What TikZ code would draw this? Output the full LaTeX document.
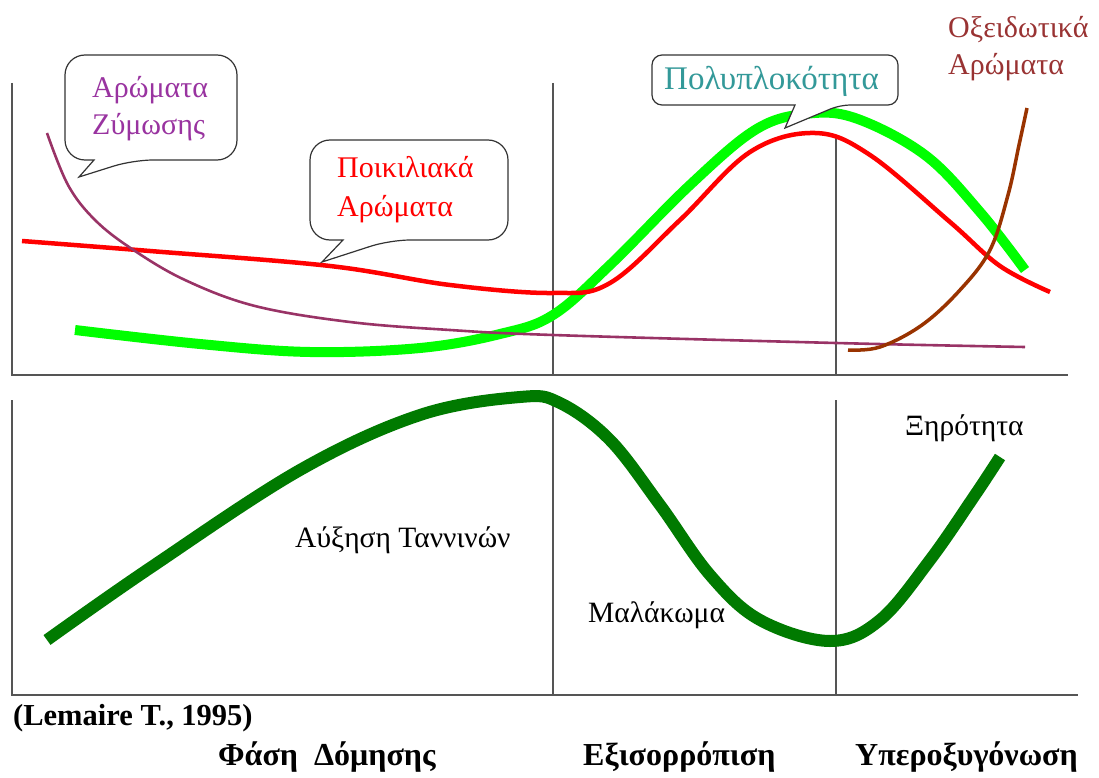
\documentclass[tikz,border=0pt]{standalone}
\usepackage{fontspec}
\setmainfont{Liberation Serif}
\definecolor{axisgray}{HTML}{555555}
\definecolor{plum}{HTML}{993366}
\definecolor{lgreen}{HTML}{00FF00}
\definecolor{dgreen}{HTML}{007A00}
\definecolor{brownc}{HTML}{993300}
\definecolor{purpletxt}{HTML}{9933A0}
\definecolor{tealtxt}{HTML}{339999}
\definecolor{oxtxt}{HTML}{993333}
\begin{document}
\begin{tikzpicture}[x=1pt,y=-1pt,
  axis/.style={draw=axisgray,line width=2.2pt},
  divider/.style={draw=axisgray,line width=1.5pt},
  bubble/.style={draw=black!80,line width=1.2pt,fill=white},
  lbl/.style={inner sep=0pt,anchor=base west,font=\fontsize{30}{37}\selectfont},
  small/.style={inner sep=0pt,anchor=base west,font=\fontsize{29.5}{32}\selectfont},
  bold/.style={inner sep=0pt,anchor=base west,font=\bfseries\fontsize{32}{34}\selectfont}]
\useasboundingbox (0,0) rectangle (1099,778);
% axes
\coordinate (tl) at (12,83); \coordinate (to) at (12,375); \coordinate (tr) at (1068,375);
\coordinate (bl) at (12,400); \coordinate (bo) at (12,695); \coordinate (br) at (1078,695);
\draw[axis] (tl) -- (to) -- (tr);
\draw[axis] (bl) -- (bo) -- (br);
\coordinate (d1t) at (553,83); \coordinate (d1m) at (553,375);
\coordinate (d1b) at (553,395); \coordinate (d1e) at (553,695);
\coordinate (d2t) at (836,135); \coordinate (d2m) at (836,375);
\coordinate (d2b) at (836,400); \coordinate (d2e) at (836,695);
\draw[divider] (d1t) -- (d1m); \draw[divider] (d1b) -- (d1e);
\draw[divider] (d2t) -- (d2m); \draw[divider] (d2b) -- (d2e);
% bright green curve
\draw[lgreen,line width=10pt] plot[smooth,tension=0.6] coordinates
 {(75,330) (200,344) (310,352) (420,348) (500,334) (553,315) (610,265) (690,185) (755,130) (805,114) (855,118) (925,155) (980,212) (1025,270)};
% red curve
\draw[red,line width=4.5pt] plot[smooth,tension=0.6] coordinates
 {(22,241) (150,251) (330,266) (450,285) (553,293) (610,283) (680,220) (750,152) (815,133) (870,155) (950,222) (1000,266) (1050,292)};
% purple curve
\draw[plum,line width=2.6pt] plot[smooth,tension=0.6] coordinates
 {(47,133) (68,185) (95,220) (132,249) (185,280) (255,306) (350,322) (450,330) (553,335) (836,343) (1025,347)};
% brown curve
\draw[brownc,line width=3.5pt] plot[smooth,tension=0.6] coordinates
 {(848,350) (880,347) (922,325) (960,290) (990,250) (1008,195) (1019,145) (1027,108)};
% dark green curve
\draw[dgreen,line width=12pt] plot[smooth,tension=0.6] coordinates
 {(47,640) (150,568) (300,470) (420,415) (520,397) (560,403) (610,440) (660,505) (710,575) (760,620) (830,641) (880,620) (930,560) (975,495) (1000,457)};
% bubbles
\draw[bubble] (65,55) [rounded corners=20pt] -- (237,55) -- (237,160) -- (133,160) [sharp corners] -- (79,177) -- (94,160) [rounded corners=20pt] -- (65,160) -- cycle;
\draw[bubble] (310,140) [rounded corners=20pt] -- (508,140) -- (508,240) -- (390,240) [sharp corners] -- (322,262) -- (343,240) [rounded corners=20pt] -- (310,240) -- cycle;
\draw[bubble] (652,55) [rounded corners=10pt] -- (898,55) -- (898,105) -- (840,105) [sharp corners] -- (785,128) -- (795,105) [rounded corners=10pt] -- (652,105) -- cycle;
% labels
\node[lbl,text=purpletxt] (arz1) at (92,98) {Αρώματα};
\node[lbl,text=purpletxt] (arz2) at (92,135) {Ζύμωσης};
\node[lbl,text=red] (poik1) at (337,178) {Ποικιλιακά};
\node[lbl,text=red] (poik2) at (337,216) {Αρώματα};
\node[lbl,text=tealtxt,font=\fontsize{33}{36}\selectfont] (poly) at (664,90) {Πολυπλοκότητα};
\node[lbl,text=oxtxt] (oxid1) at (948,38) {Οξειδωτικά};
\node[lbl,text=oxtxt] (oxid2) at (948,75) {Αρώματα};
\node[small] (tann) at (295,547) {Αύξηση Ταννινών};
\node[small] (mal) at (588,622) {Μαλάκωμα};
\node[small] (xir) at (905,435) {Ξηρότητα};
\node[bold,font=\bfseries\fontsize{30.5}{32}\selectfont] (lem) at (13,725) {(Lemaire T., 1995)};
\node[bold] (fasi) at (218,765) {Φάση\ \ Δόμησης};
\node[bold] (exis) at (583,765) {Εξισορρόπιση};
\node[bold] (yper) at (855,765) {Υπεροξυγόνωση};
\end{tikzpicture}
\end{document}
